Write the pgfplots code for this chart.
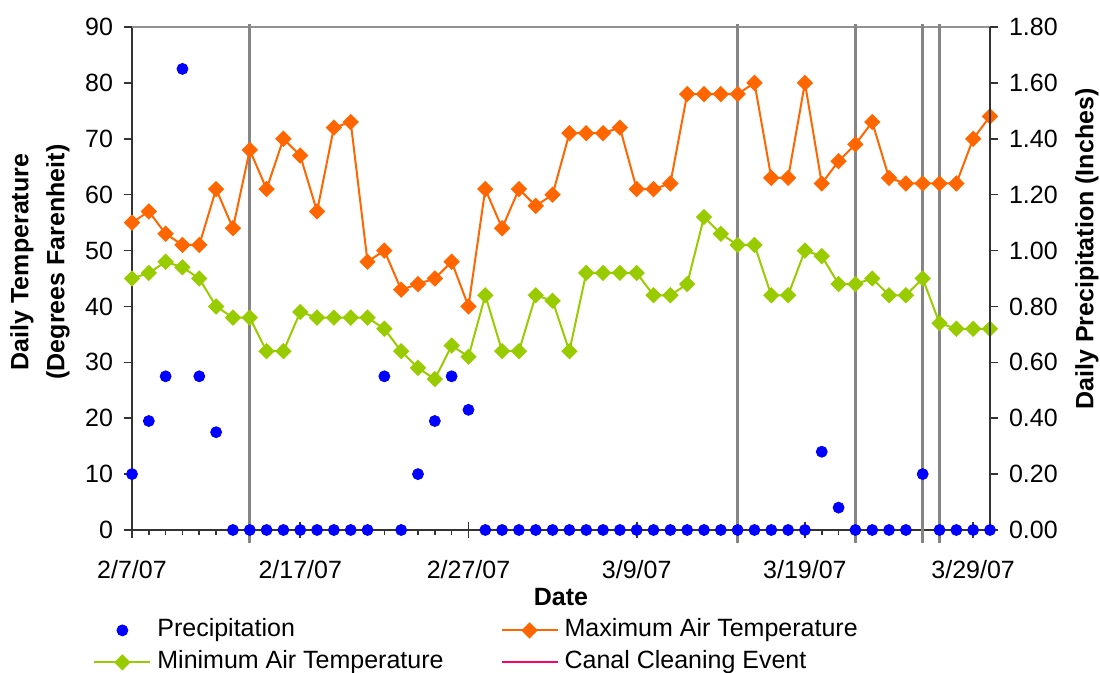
\documentclass[border=0pt]{standalone}
\usepackage{pgfplots}
\usepackage{pgfplotstable}
\pgfplotsset{compat=1.18}
\usepackage{fontspec}
\setmainfont{Liberation Sans}
\definecolor{maxc}{HTML}{FF6600}
\definecolor{minc}{HTML}{99CC00}
\definecolor{prc}{HTML}{0000FF}
\definecolor{evc}{HTML}{FF0066}
\definecolor{linec}{HTML}{858585}

\pgfplotstableread{
d tmax tmin p
0 55 45 0.20
1 57 46 0.39
2 53 48 0.55
3 51 47 1.65
4 51 45 0.55
5 61 40 0.35
6 54 38 0
7 68 38 0
8 61 32 0
9 70 32 0
10 67 39 0
11 57 38 0
12 72 38 0
13 73 38 0
14 48 38 0
15 50 36 0.55
16 43 32 0
17 44 29 0.20
18 45 27 0.39
19 48 33 0.55
20 40 31 0.43
21 61 42 0
22 54 32 0
23 61 32 0
24 58 42 0
25 60 41 0
26 71 32 0
27 71 46 0
28 71 46 0
29 72 46 0
30 61 46 0
31 61 42 0
32 62 42 0
33 78 44 0
34 78 56 0
35 78 53 0
36 78 51 0
37 80 51 0
38 63 42 0
39 63 42 0
40 80 50 0
41 62 49 0.28
42 66 44 0.08
43 69 44 0
44 73 45 0
45 63 42 0
46 62 42 0
47 62 45 0.20
48 62 37 0
49 62 36 0
50 70 36 0
51 74 36 0
}\data

\begin{document}
\begin{tikzpicture}[font=\fontsize{12.5}{15}\selectfont]
\pgfplotsset{
  common/.style={
    scale only axis, width=429pt, height=251.5pt,
    xmin=0, xmax=51, clip=false,
    /pgf/number format/assume math mode=true,
    tick label style={font=\fontsize{12.5}{15}\selectfont},
    major tick length=4pt, minor tick length=2.5pt,
    tick align=outside,
    axis line style={black!80, line width=0.8pt},
    every tick/.style={black!80, line width=0.8pt},
  }
}
\begin{axis}[common,
  ymin=0, ymax=90, ytick={0,10,...,90},
  axis x line*=bottom, axis y line*=left,
  xtick={0,10,...,50},
  xticklabels={2/7/07,2/17/07,2/27/07,3/9/07,3/19/07,3/29/07},
  minor x tick num=9,
  extra x ticks={0,10,...,50},
  extra x tick labels={},
  extra x tick style={major tick length=8pt, xtick align=center},
  xticklabel style={yshift=-7.5pt},
  yticklabel style={xshift=-2pt},
]
\draw[linec!90, line width=0.8pt] (rel axis cs:0,1) -- (rel axis cs:1,1);
\addplot[linec, line width=1.7pt, forget plot] coordinates {(7,-2.3) (7,90.5)};
\addplot[linec, line width=1.7pt, forget plot] coordinates {(36,-2.3) (36,90.5)};
\addplot[linec, line width=1.7pt, forget plot] coordinates {(43,-2.3) (43,90.5)};
\addplot[linec, line width=1.7pt, forget plot] coordinates {(47,-2.3) (47,90.5)};
\addplot[linec, line width=1.7pt, forget plot] coordinates {(48,-2.3) (48,90.5)};
\addplot[maxc, line width=1pt, mark=square*, mark size=2.4pt,
  mark options={rotate=45, fill=maxc, draw=maxc}] table[x=d,y=tmax]{\data};
\addplot[minc, line width=1pt, mark=square*, mark size=2.4pt,
  mark options={rotate=45, fill=minc, draw=minc}] table[x=d,y=tmin]{\data};
\end{axis}

\begin{axis}[common,
  ymin=0, ymax=1.8,
  ytick={0,0.2,0.4,0.6,0.8,1.0,1.2,1.4,1.6,1.8},
  axis y line*=right, axis x line=none,
  yticklabel style={xshift=2pt, /pgf/number format/.cd, fixed, fixed zerofill, precision=2},
  legend columns=2,
  legend cell align=left,
  legend image code/.code={\draw[mark repeat=2,mark phase=2] plot coordinates {(0pt,0pt) (14pt,0pt) (28pt,0pt)};},
  legend style={at={(axis description cs:0,0)}, anchor=north west,
    xshift=-19.5pt, yshift=-44pt, draw=none, fill=none, inner sep=0pt,
    row sep=4pt,
    nodes={inner sep=0pt, text height=9pt, text depth=3pt, font=\fontsize{12.5}{15}\selectfont},
    /tikz/every odd column/.append style={column sep=3pt},
    /tikz/every even column/.append style={column sep=28.5pt}},
]
\addplot[only marks, mark=*, mark size=2.75pt, prc, mark options={fill=prc, draw=prc}] table[x=d,y=p]{\data};
\addlegendentry{Precipitation}
\addlegendimage{maxc, line width=1pt, mark=square*, mark size=2.4pt, mark options={rotate=45, fill=maxc, draw=maxc}}
\addlegendentry{Maximum Air Temperature}
\addlegendimage{minc, line width=1pt, mark=square*, mark size=2.4pt, mark options={rotate=45, fill=minc, draw=minc}}
\addlegendentry{Minimum Air Temperature}
\addlegendimage{evc, line width=0.9pt, no markers}
\addlegendentry{Canal Cleaning Event}
\end{axis}

\node[rotate=90, align=center, font=\bfseries\fontsize{12.5}{18}\selectfont] at (-46pt,134pt) {Daily Temperature\\(Degrees Farenheit)};
\node[rotate=90, font=\bfseries\fontsize{12.5}{15}\selectfont] at (477.5pt,140.5pt) {Daily Precipitation (Inches)};
\node[font=\bfseries\fontsize{12.5}{15}\selectfont] at (214.5pt,-33.5pt) {Date};

\pgfresetboundingbox
\useasboundingbox (-66pt,-71.5pt) rectangle (484pt,265pt);
\end{tikzpicture}
\end{document}
